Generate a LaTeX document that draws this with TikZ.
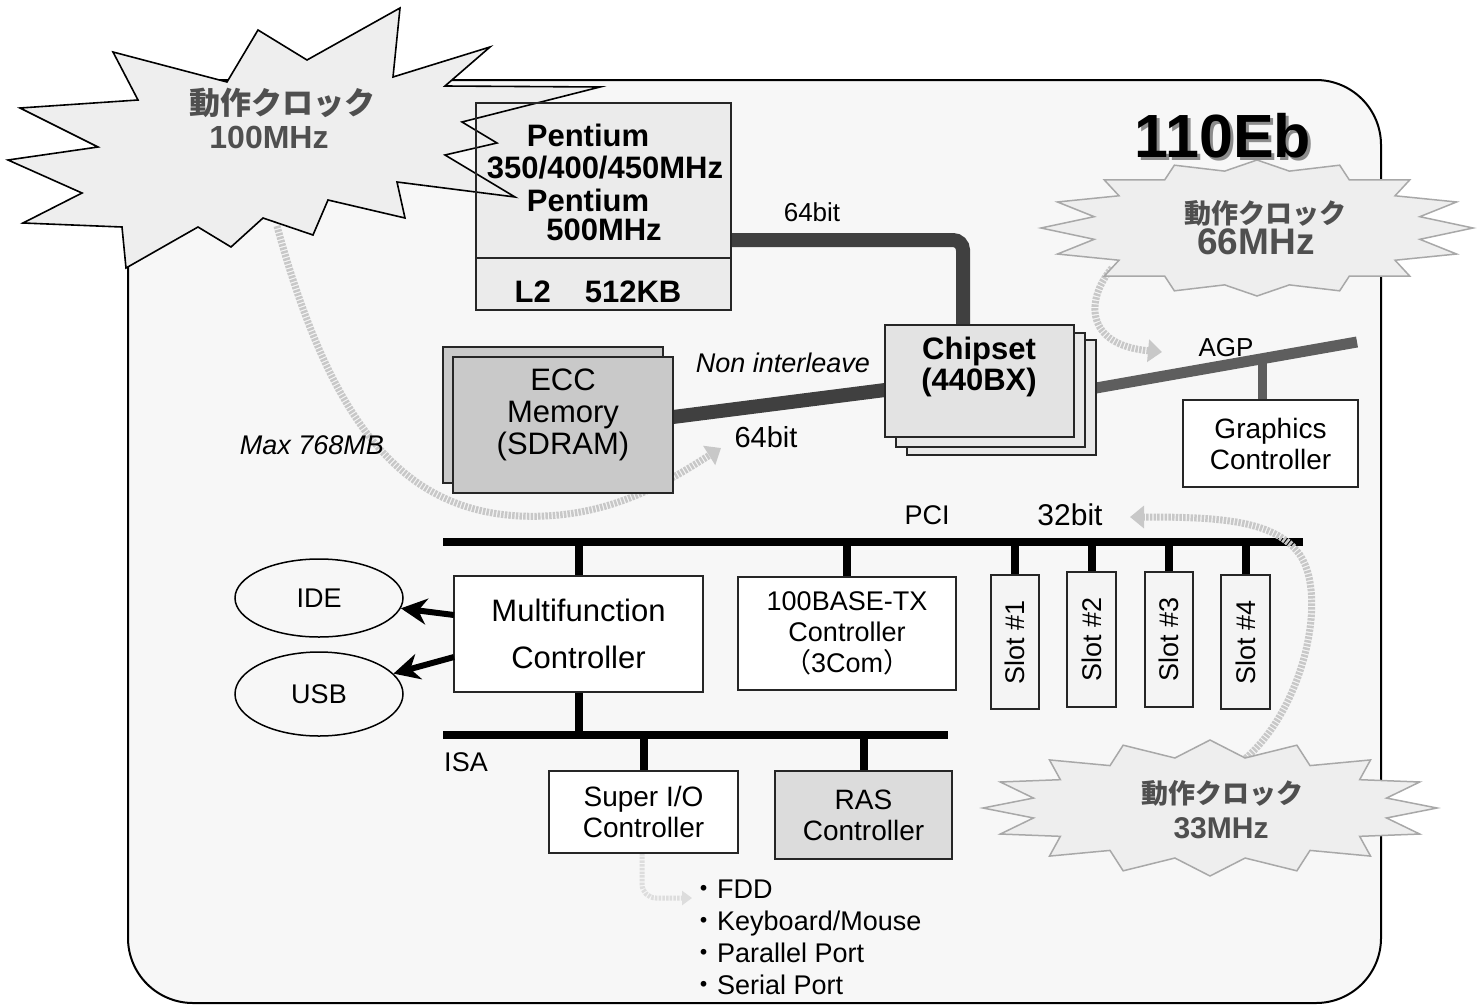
\documentclass[tikz,border=0pt]{standalone}
\usepackage{fontspec}
\setmainfont{Liberation Sans}
\newfontfamily\cjk{Noto Sans CJK JP}
\usetikzlibrary{shapes.geometric,arrows.meta,calc}
\pgfdeclarelayer{back}
\pgfdeclarelayer{conn}
\pgfsetlayers{back,conn,main}
\definecolor{colbg}{HTML}{F7F7F7}
\definecolor{colcpu}{HTML}{EBEBEB}
\definecolor{colmem}{HTML}{C9C9C9}
\definecolor{colchip}{HTML}{E3E3E3}
\definecolor{colchipb}{HTML}{E8E8E8}
\definecolor{colras}{HTML}{DCDCDC}
\definecolor{colslot}{HTML}{F4F4F4}
\definecolor{colstar}{HTML}{EEEEEE}
\definecolor{colstartxt}{HTML}{4F4F4F}
\definecolor{colbusdark}{HTML}{404040}
\definecolor{colagp}{HTML}{5E5E5E}
\definecolor{colgarr}{HTML}{C8C8C8}
\definecolor{colgarrl}{HTML}{DDDDDD}
\definecolor{colstarline}{HTML}{A8A8A8}
\definecolor{colshadow}{HTML}{8C8C8C}
\newcommand\setfs[2]{\fontsize{#1}{#2}\selectfont}
\newcommand\mkburst[7]{%
  \draw[#1] ({#2+#4},#3) \foreach \k in {0,...,15}{
     -- ({#2+#6*cos(\k*22.5+11.25)},{#3+#7*sin(\k*22.5+11.25)})
     -- ({#2+#4*cos((\k+1)*22.5)},{#3+#5*sin((\k+1)*22.5)})} -- cycle;}
\begin{document}
\begin{tikzpicture}[x=1pt,y=-1pt,
  boxst/.style={draw=black!85, line width=1.8pt, inner sep=0pt, outer sep=0pt, anchor=north west},
  lbl/.style={inner sep=0pt, align=center},
  bus/.style={line width=8pt, draw=black},
  garrow/.style={draw=colgarr, line width=7pt, dash pattern=on 2.5pt off 1.2pt, -{Triangle[width=22pt,length=14pt]}},
  garrowl/.style={draw=colgarrl, line width=5pt, dash pattern=on 2.5pt off 1.2pt, -{Triangle[width=14pt,length=10pt]}},
  blackarr/.style={line width=6pt, draw=black, -{Stealth[length=26pt,width=26pt]}},
  starone/.style={fill=colstar, draw=black, line width=1.6pt, line join=miter},
  startwo/.style={fill=colstar, draw=colstarline, line width=1.5pt},
]
\useasboundingbox (0,0) rectangle (1479,1004);
\begin{pgfonlayer}{back}
  \fill[white] (0,0) rectangle (1479,1004);
  \draw[fill=colbg, line width=2pt, rounded corners=65pt] (128,80) rectangle (1381,1003);
\end{pgfonlayer}

% ---------- boxes ----------
\node[boxst, fill=colcpu, minimum width=255pt, minimum height=207pt] (cpu) at (476,103) {};
\node[boxst, fill=colmem, minimum width=220pt, minimum height=136pt] (memb) at (443,347) {};
\node[boxst, fill=colmem, minimum width=220pt, minimum height=136pt] (mem) at (453,357) {};
\node[boxst, fill=colchipb, minimum width=189pt, minimum height=115pt] (chipc) at (907,340) {};
\node[boxst, fill=colchipb, minimum width=189pt, minimum height=114pt] (chipb) at (896,333) {};
\node[boxst, fill=colchip, minimum width=189pt, minimum height=112pt] (chip) at (885,325) {};
\node[boxst, fill=white, minimum width=175pt, minimum height=87pt, font=\setfs{28}{31}, align=center] (gfx) at (1183,400) {Graphics\\Controller};
\node[boxst, fill=white, minimum width=249pt, minimum height=116pt, font=\setfs{31}{47}, align=center] (mf) at (454,576) {Multifunction\\Controller};
\node[boxst, fill=white, minimum width=218pt, minimum height=113pt, font=\setfs{27}{31}, align=center] (net) at (738,577) {100BASE-TX\\Controller\\{\cjk （}3Com{\cjk ）}};
\node[boxst, fill=colslot, minimum width=48pt, minimum height=134pt] (s1) at (991,575) {};
\node[boxst, fill=colslot, minimum width=49pt, minimum height=135pt] (s2) at (1067,572) {};
\node[boxst, fill=colslot, minimum width=48pt, minimum height=135pt] (s3) at (1145,572) {};
\node[boxst, fill=colslot, minimum width=49pt, minimum height=134pt] (s4) at (1221,575) {};
\node[boxst, fill=white, minimum width=189pt, minimum height=82pt, font=\setfs{28}{31}, align=center] (sio) at (549,771) {Super I/O\\Controller};
\node[boxst, fill=colras, minimum width=177pt, minimum height=88pt, font=\setfs{28}{31}, align=center] (ras) at (775,771) {RAS\\Controller};
\node[ellipse, draw=black, line width=1.5pt, fill=colbg, minimum width=168pt, minimum height=78pt, font=\setfs{27}{30}] (ide) at (319,598) {IDE};
\node[ellipse, draw=black, line width=1.5pt, fill=colbg, minimum width=168pt, minimum height=84pt, font=\setfs{27}{30}] (usb) at (319,694) {USB};

% ---------- connectors ----------
\begin{pgfonlayer}{conn}
  \draw[line width=14pt, draw=colbusdark, rounded corners=10pt] ([yshift=-33.5pt]cpu.east) -| ([xshift=-16.5pt]chip.north);
  \draw[line width=14pt, draw=colbusdark] ([yshift=8pt]mem.east) -- ([yshift=-9pt]chip.west);
  \coordinate (agpA) at ([yshift=9.5pt]chipc.east);
  \coordinate (agpB) at (1357,342);
  \draw[line width=11pt, draw=colagp] (agpA) -- (agpB);
  \coordinate (agpT) at ($(agpA)!0.636!(agpB)$);
  \draw[line width=9pt, draw=colagp] (agpT) -- (agpT |- gfx.north);
  \coordinate (pciL) at (443,542);
  \coordinate (pciR) at (1303,542);
  \draw[bus] (pciL) -- (pciR);
  \foreach \n in {mf,net,s1,s2,s3,s4} {\draw[bus] (\n.north) -- (\n.north |- pciL);}
  \coordinate (isaL) at (443,735);
  \coordinate (isaR) at (948,735);
  \draw[bus] (isaL) -- (isaR);
  \draw[bus] (mf.south) -- (mf.south |- isaL);
  \draw[bus] (sio.north) -- (sio.north |- isaL);
  \draw[bus] (ras.north) -- (ras.north |- isaL);
  % gray clock arrows
  \coordinate (ga0) at (277,226);
  \coordinate (ga1) at (520,516);
  \coordinate (ga2) at (721,448);
  \draw[garrow] (ga0) .. controls (330,420) and (400,510) .. (ga1) .. controls (610,520) and (670,480) .. (ga2);
  \coordinate (gb0) at (1112,268);
  \coordinate (gb1) at (1162,352);
  \draw[garrow] (gb0) .. controls (1085,300) and (1085,345) .. (gb1);
  \coordinate (gc0) at (1237,765);
  \coordinate (gc1) at (1300,555);
  \coordinate (gc2) at (1130,517);
  \draw[garrow] (gc0) .. controls (1300,720) and (1330,600) .. (gc1) .. controls (1275,520) and (1220,517) .. (gc2);
  \coordinate (gd1) at (692,898);
  \draw[garrowl, rounded corners=14pt] (sio.south -| 642,0) |- (gd1);
\end{pgfonlayer}

\draw[blackarr] ([yshift=19pt]mf.west) -- (ide);
\draw[blackarr] ([yshift=-23pt]mf.west) -- (usb);

% ---------- starbursts ----------
\draw[starone] (113,52) -- (227,82) -- (258,30) -- (307,60) -- (400,8) -- (393,77) -- (490,47) -- (445,86) -- (600,87) -- (462,122) -- (497,143) -- (445,155) -- (515,197) -- (397,182) -- (405,218) -- (328,200) -- (313,235) -- (263,218) -- (231,247) -- (198,227) -- (126,268) -- (122,227) -- (23,223) -- (82,193) -- (8,160) -- (98,147) -- (20,108) -- (138,100) -- cycle;
\mkburst{startwo}{1257}{228}{216}{68}{166}{58}
\mkburst{startwo}{1210}{808}{227}{68}{180}{51}
\draw[draw=black!85, line width=1.8pt] (cpu.north west) rectangle (cpu.south east);
\draw[line width=1.8pt, draw=black!85] (476,258) -- (731,258);

% ---------- texts ----------
\node[lbl, font=\bfseries\setfs{31}{32}] (cpu1) at (588,135) {Pentium};
\node[lbl, font=\bfseries\setfs{31}{32}] (cpu2) at (605,168) {350/400/450MHz};
\node[lbl, font=\bfseries\setfs{31}{32}] (cpu3) at (588,200) {Pentium};
\node[lbl, font=\bfseries\setfs{31}{32}] (cpu4) at (604,230) {500MHz};
\node[lbl, font=\bfseries\setfs{31}{32}] (cpu5) at (598,292) {L2\hspace{34pt}512KB};
\node[lbl, font=\bfseries\setfs{31}{31}] (chipt) at (979,367) {Chipset\\(440BX)};
\node[lbl, font=\setfs{31}{32}] (memt) at (563,415) {ECC\\Memory\\(SDRAM)};
\node[lbl, font=\setfs{26}{28}] (bit64a) at (812,212) {64bit};
\node[lbl, font=\itshape\setfs{27}{28}] (nonil) at (783,363) {Non interleave};
\node[lbl, font=\setfs{29}{30}] (bit64b) at (766,437) {64bit};
\node[lbl, font=\itshape\setfs{27}{28}] (maxmem) at (312,445) {Max 768MB};
\node[lbl, font=\setfs{26}{28}] (agpl) at (1226,348) {AGP};
\node[lbl, font=\setfs{27}{28}] (pcil) at (927,515) {PCI};
\node[lbl, font=\setfs{30}{30}] (bit32) at (1070,515) {32bit};
\node[lbl, font=\setfs{27}{28}] (isal) at (466,762) {ISA};
\foreach \n/\t in {s1/1,s2/2,s3/3,s4/4} {\node[lbl, rotate=90, font=\setfs{27}{28}] at (\n.center) {Slot \#\t};}
\node[lbl, anchor=west, align=left, font=\setfs{27}{32}] (iolist) at (690,937) {{\cjk ・}FDD\\{\cjk ・}Keyboard/Mouse\\{\cjk ・}Parallel Port\\{\cjk ・}Serial Port};
\node[lbl, font=\bfseries\setfs{61}{61}] (title) at (1223,137) {\makebox[0pt][l]{\hspace{3pt}\raisebox{-3pt}{\textcolor{colshadow}{110Eb}}}110Eb};
\node[lbl, text=colstartxt, font=\cjk\bfseries\setfs{31}{32}] (c100a) at (282,103) {動作クロック};
\node[lbl, text=colstartxt, font=\bfseries\setfs{32}{32}] (c100b) at (269,137) {100MHz};
\node[lbl, text=colstartxt, font=\cjk\bfseries\setfs{27}{28}] (c66a) at (1265,213) {動作クロック};
\node[lbl, text=colstartxt, font=\bfseries\setfs{37}{37}] (c66b) at (1256,242) {66MHz};
\node[lbl, text=colstartxt, font=\cjk\bfseries\setfs{27}{28}] (c33a) at (1222,793) {動作クロック};
\node[lbl, text=colstartxt, font=\bfseries\setfs{30}{30}] (c33b) at (1221,828) {33MHz};
\end{tikzpicture}
\end{document}
